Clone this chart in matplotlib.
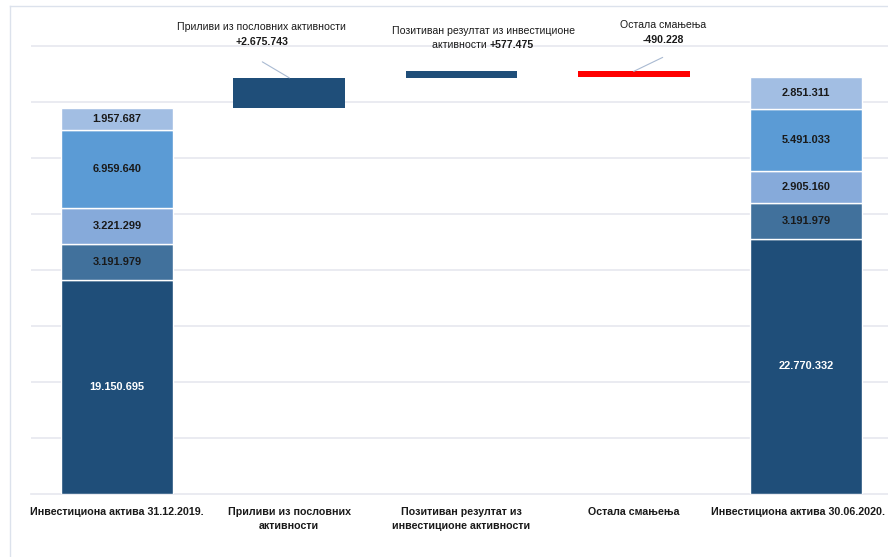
import matplotlib
matplotlib.use("Agg")
import matplotlib.pyplot as plt
from matplotlib.lines import Line2D

plt.rcParams['font.family'] = ['Liberation Sans', 'DejaVu Sans']

# ----- data
categories = ['Инвестициона актива 31.12.2019.', 'Приливи из пословних\nактивности',
              'Позитиван резултат из\nинвестиционе активности', 'Остала смањења',
              'Инвестициона актива 30.06.2020.']
start_parts = [19150695, 3191979, 3221299, 6959640, 1957687]
end_parts = [22770332, 3191979, 2905160, 5491033, 2851311]
changes = [2675743, 577475, -490228]
change_titles = ['Приливи из пословних активности', 'Позитиван резултат из инвестиционе',
                 'Остала смањења']
change_labels = ['+2.675.743', '+577.475', '-490.228']

part_colors = ['#1F4E79', '#41719C', '#86AADA', '#5B9BD5', '#A2BEE3']
change_colors = ['#1F4E79', '#1F4E79', '#FF0000']
grid_color = '#E6E8EF'
leader_color = '#A9BAD2'
txt_color = '#1a1a1a'


def fmt(v):
    return f"{v:,}".replace(',', '.')


fig = plt.figure(figsize=(8.88, 5.57), dpi=100)
W, H = 888, 557
ytop = 40.3e6
ax_h = 40.3 * 11.2  # axes height in pixels
ax = fig.add_axes([31 / W, (H - 494) / H, (892 - 31) / W, ax_h / H])
width = 0.65

# ----- stacked start / end bars
for xpos, parts in [(0, start_parts), (4, end_parts)]:
    bottom = 0
    for i, v in enumerate(parts):
        ax.bar(xpos, v, bottom=bottom, width=width, color=part_colors[i],
               edgecolor='white', linewidth=1.0, zorder=3)
        ax.text(xpos, bottom + v / 2, fmt(v), ha='center', va='center',
                fontsize=7.9, fontweight='bold',
                color='white' if i == 0 else txt_color, zorder=4)
        bottom += v

# ----- floating change bars
level = sum(start_parts)
tops = []
for j, c in enumerate(changes):
    lo = level if c > 0 else level + c
    ax.bar(j + 1, abs(c), bottom=lo, width=width, color=change_colors[j],
           linewidth=0, zorder=3)
    tops.append(max(level, level + c))
    level += c

# ----- annotations above the change bars
fs = 7.6
ax.text(0.84, 41.7e6, change_titles[0], ha='center', va='center', fontsize=fs, color=txt_color)
ax.text(0.84, 40.35e6, change_labels[0], ha='center', va='center', fontsize=fs,
        fontweight='bold', color=txt_color)
ax.annotate('', xy=(1, tops[0]), xytext=(-27, 16), textcoords='offset pixels',
            arrowprops=dict(arrowstyle='-', color=leader_color, lw=0.8, shrinkA=0, shrinkB=0))

ax.text(2.13, 41.35e6, change_titles[1], ha='center', va='center', fontsize=fs, color=txt_color)
ax.text(2.165, 40.1e6, 'активности ', ha='right', va='center', fontsize=fs, color=txt_color)
ax.text(2.165, 40.1e6, change_labels[1], ha='left', va='center', fontsize=fs,
        fontweight='bold', color=txt_color)

ax.text(3.17, 41.9e6, change_titles[2], ha='center', va='center', fontsize=fs, color=txt_color)
ax.text(3.17, 40.55e6, change_labels[2], ha='center', va='center', fontsize=fs,
        fontweight='bold', color=txt_color)
ax.annotate('', xy=(3, tops[2]), xytext=(29, 14), textcoords='offset pixels',
            arrowprops=dict(arrowstyle='-', color=leader_color, lw=0.8, shrinkA=0, shrinkB=0))

# ----- category labels under the bars (last one nudged left to stay inside)
for i, lab in enumerate(categories):
    xo = -0.045 if i == len(categories) - 1 else 0
    ax.text(i + xo, -13 / ax_h, lab, transform=ax.get_xaxis_transform(),
            ha='center', va='top', fontsize=7.7, fontweight='bold', color=txt_color,
            linespacing=1.45)

# ----- axes decoration
ax.set_xlim(-0.5, 4.5)
ax.set_ylim(0, ytop)
ax.set_yticks([i * 5e6 for i in range(1, 9)])
ax.set_yticklabels([])
ax.tick_params(axis='y', length=0)
ax.grid(axis='y', color=grid_color, linewidth=1.2, zorder=0)
ax.set_xticks([])
for s in ['top', 'left', 'right']:
    ax.spines[s].set_visible(False)
ax.spines['bottom'].set_color(grid_color)
ax.spines['bottom'].set_linewidth(1.2)
ax.set_facecolor('none')

# figure frame (top and left edges)
fig.add_artist(Line2D([10 / W, 1], [1 - 6 / H, 1 - 6 / H], transform=fig.transFigure,
                      color='#DCE2EC', lw=1.0))
fig.add_artist(Line2D([10 / W, 10 / W], [0, 1 - 6 / H], transform=fig.transFigure,
                      color='#DCE2EC', lw=1.0))

fig.savefig('out.png', dpi=100)
plt.close(fig)
